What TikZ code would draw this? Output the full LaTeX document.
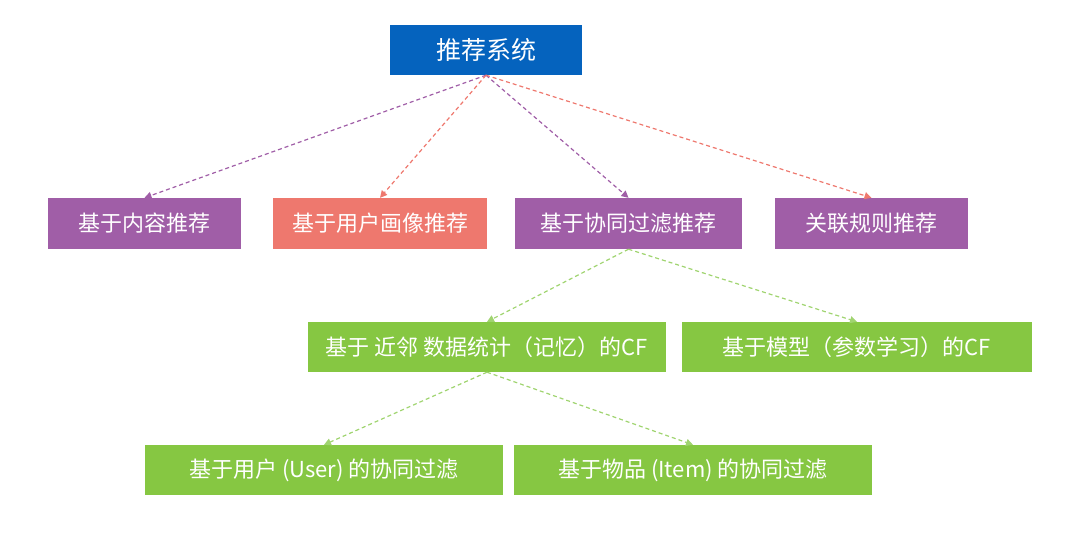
\documentclass[tikz,border=0pt]{standalone}
\usepackage{fontspec}
\setmainfont{Noto Sans CJK SC}
\usetikzlibrary{arrows.meta}
\definecolor{recblue}{RGB}{5,99,190}
\definecolor{recpurple}{RGB}{160,94,167}
\definecolor{recsalmon}{RGB}{238,120,110}
\definecolor{recgreen}{RGB}{134,199,66}
\definecolor{reclinegreen}{RGB}{160,212,112}
\begin{document}
\begin{tikzpicture}[x=1pt,y=-1pt,
	box/.style={inner sep=0pt,minimum height=51pt,text=white,font=\fontsize{22}{26}\selectfont},
	link/.style={dashed,dash pattern=on 4pt off 3pt,line width=1.2pt,-{Triangle[length=7pt,width=7pt]}}]
	\useasboundingbox (0,0) rectangle (1080,560);
	% root
	\node [box,fill=recblue,minimum width=192pt,minimum height=50pt,font=\fontsize{25}{30}\selectfont] (rec) at (486,50) {推荐系统};
	% second row
	\node [box,fill=recpurple,minimum width=193pt] (content) at (144.5,223.5) {基于内容推荐};
	\node [box,fill=recsalmon,minimum width=214pt] (portrait) at (380,223.5) {基于用户画像推荐};
	\node [box,fill=recpurple,minimum width=227pt] (cf) at (628.5,223.5) {基于协同过滤推荐};
	\node [box,fill=recpurple,minimum width=193pt] (assoc) at (871.5,223.5) {关联规则推荐};
	% third row
	\node [box,fill=recgreen,minimum width=358pt,minimum height=50pt] (knn) at (487,347) {基于 近邻 数据统计（记忆）的CF};
	\node [box,fill=recgreen,minimum width=350pt,minimum height=50pt] (model) at (857,347) {基于模型（参数学习）的CF};
	% fourth row
	\node [box,fill=recgreen,minimum width=358pt,minimum height=50pt] (user) at (324,470) {基于用户 (User) 的协同过滤};
	\node [box,fill=recgreen,minimum width=358pt,minimum height=50pt] (item) at (693,470) {基于物品 (Item) 的协同过滤};
	% links
	\draw [link,recpurple] (rec.south) -- (content.north);
	\draw [link,recsalmon] (rec.south) -- (portrait.north);
	\draw [link,recpurple] (rec.south) -- (cf.north);
	\draw [link,recsalmon] (rec.south) -- (assoc.north);
	\draw [link,reclinegreen] (cf.south) -- (knn.north);
	\draw [link,reclinegreen] (cf.south) -- (model.north);
	\draw [link,reclinegreen] (knn.south) -- (user.north);
	\draw [link,reclinegreen] (knn.south) -- (item.north);
\end{tikzpicture}
\end{document}
